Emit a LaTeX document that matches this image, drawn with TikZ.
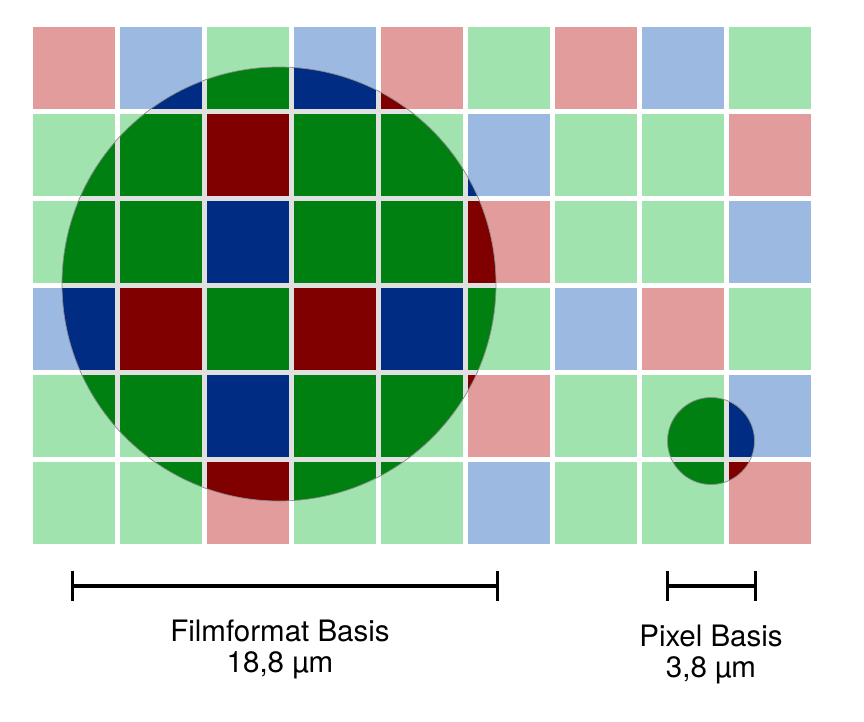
\documentclass[tikz,border=0pt]{standalone}
\usepackage{fontspec}
\setmainfont{TeX Gyre Heros}
\usetikzlibrary{arrows.meta}
\definecolor{lightR}{HTML}{E29C9C}
\definecolor{lightG}{HTML}{A0E3AE}
\definecolor{lightB}{HTML}{9CB9E2}
\definecolor{darkR}{HTML}{800000}
\definecolor{darkG}{HTML}{008011}
\definecolor{darkB}{HTML}{002D83}
\definecolor{gapgray}{HTML}{E0E0E0}
\definecolor{rimgray}{HTML}{8C8C8C}

% Bayer pattern, one colour prefix for the pale and one for the full tone.
\newcommand\bayercells[1]{%
  \foreach \row/\cols in {
    0/{R,B,G,B,R,G,R,B,G},1/{G,G,R,G,G,B,G,G,R},
    2/{G,G,B,G,G,R,G,G,B},3/{B,R,G,R,B,G,B,R,G},
    4/{G,G,B,G,G,R,G,G,B},5/{G,G,R,G,G,B,G,G,R}}
    \foreach \k [count=\col from 0] in \cols
      \fill[fill=#1\k] ({33+87*\col},{27+87*\row}) rectangle ++(81.5,81.5);}

\begin{document}
\begin{tikzpicture}[x=1pt,y=-1pt,
    rim/.style={draw=rimgray,line width=.7pt},
    scalebar/.style={line width=3.4pt,{Bar[width=30pt]}-{Bar[width=30pt]}},
    caption/.style={align=center,inner sep=0pt,anchor=north,
      font=\fontsize{29.5}{31}\selectfont}]
    \path[use as bounding box,fill=white] (0,0) rectangle (864,721);

    % Pale sensor grid.
    \bayercells{light}

    % The film grain and the pixel show the full colours beneath them.
    \begin{scope}
      \clip (279,284) circle[radius=217pt];
      \fill[gapgray] (279,284) circle[radius=217pt];
      \bayercells{dark}
    \end{scope}
    \draw[rim] (279,284) circle[radius=217pt];

    \begin{scope}
      \clip (711,441) circle[radius=43.5pt];
      \fill[gapgray] (711,441) circle[radius=43.5pt];
      \bayercells{dark}
    \end{scope}
    \draw[rim] (711,441) circle[radius=43.5pt];

    % Scale bars with their captions.
    \coordinate (film-left) at (71,586);
    \coordinate (film-right) at (499,586);
    \coordinate (pixel-left) at (666,586);
    \coordinate (pixel-right) at (757,586);
    \draw[scalebar] (film-left) -- (film-right);
    \draw[scalebar] (pixel-left) -- (pixel-right);

    \node[caption] (filmlabel) at (280,619.5) {Filmformat Basis\\18,8 µm};
    \node[caption] (pixellabel) at (711,624.5) {Pixel Basis\\3,8 µm};
  \end{tikzpicture}
\end{document}
